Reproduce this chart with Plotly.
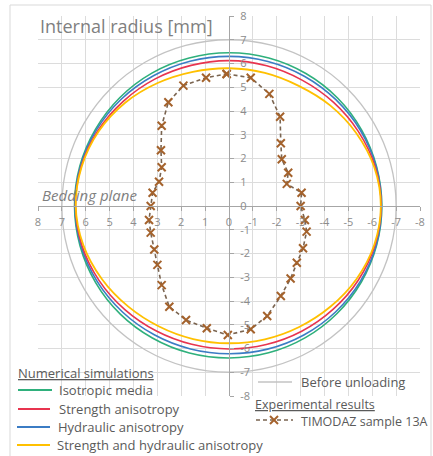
import numpy as np
import plotly.graph_objects as go

# ---------------- data ----------------
ANGLES_DEG = [0, 15, 30, 45, 60, 75, 90, 105, 120, 135, 150, 165, 180,
              195, 210, 225, 240, 255, 270, 285, 300, 315, 330, 345, 360]

BEFORE_UNLOADING_R = [7.0, 7.0, 7.0, 7.0, 7.0, 7.0, 7.0, 7.0, 7.0, 7.0, 7.0, 7.0, 7.0,
                      7.0, 7.0, 7.0, 7.0, 7.0, 7.0, 7.0, 7.0, 7.0, 7.0, 7.0, 7.0]
ISOTROPIC_R = [6.47, 6.47, 6.46, 6.46, 6.46, 6.45, 6.45, 6.45, 6.44, 6.43, 6.41, 6.40, 6.40,
               6.40, 6.40, 6.40, 6.40, 6.40, 6.40, 6.41, 6.42, 6.44, 6.45, 6.46, 6.47]
HYDRAULIC_R = [6.45, 6.44, 6.41, 6.37, 6.33, 6.31, 6.30, 6.30, 6.31, 6.33, 6.36, 6.38, 6.39,
               6.38, 6.35, 6.31, 6.27, 6.24, 6.22, 6.23, 6.26, 6.31, 6.37, 6.42, 6.45]
STRENGTH_R = [6.43, 6.41, 6.34, 6.25, 6.18, 6.13, 6.12, 6.11, 6.12, 6.18, 6.26, 6.34, 6.37,
              6.33, 6.25, 6.16, 6.09, 6.04, 6.02, 6.03, 6.08, 6.17, 6.28, 6.38, 6.43]
STRENGTH_HYDRAULIC_R = [6.42, 6.39, 6.30, 6.15, 5.98, 5.85, 5.80, 5.80, 5.84, 5.99, 6.15, 6.30, 6.36,
                        6.30, 6.16, 6.00, 5.88, 5.81, 5.78, 5.80, 5.86, 5.98, 6.15, 6.32, 6.42]

EXP_X = [0.10, -0.91, -1.69, -2.14, -2.17, -2.21, -2.48, -2.42, -3.04, -3.00, -3.18, -3.25,
         -3.10, -2.84, -2.58, -2.17, -1.60, -0.91, 0.05, 0.93, 1.80, 2.50, 2.82, 3.00,
         3.13, 3.28, 3.35, 3.28, 3.20, 2.93, 2.82, 2.85, 2.82, 2.54, 1.91, 0.96, 0.10]
EXP_Y = [5.56, 5.40, 4.72, 3.76, 2.64, 1.97, 1.40, 0.93, 0.56, 0.00, -0.59, -1.08,
         -1.78, -2.39, -3.05, -3.79, -4.63, -5.19, -5.43, -5.15, -4.80, -4.24, -3.33, -2.48,
         -1.83, -1.12, -0.59, 0.00, 0.56, 1.02, 1.63, 2.35, 3.38, 4.37, 5.07, 5.40, 5.56]

TICK_VALS = [8, 7, 6, 5, 4, 3, 2, 1, 0, -1, -2, -3, -4, -5, -6, -7, -8]
TICK_TEXT = ["8", "7", "6", "5", "4", "3", "2", "1", "0",
             "-1", "-2", "-3", "-4", "-5", "-6", "-7", "-8"]

# ---------------- layout helpers ----------------
W, H = 433, 456
ML, MR, MT, MB = 38, 13, 16, 60
FONT = "Open Sans"


def px(xp):
    return (xp - ML) / (W - ML - MR)


def py(yp):
    return (H - MB - yp) / (H - MT - MB)


def polar_xy(radii):
    th = np.radians(ANGLES_DEG)
    r = np.asarray(radii, dtype=float)
    return r * np.cos(th), r * np.sin(th)


GRAY = "#c3c3c3"
GREEN = "#2fb07c"
BLUE = "#3b7cc4"
RED = "#e8344f"
YELLOW = "#ffc000"
BROWN = "#a4622c"
DASHC = "#7a6450"
TXT = "#5a5a5a"

fig = go.Figure()

for radii, color, width in [
    (BEFORE_UNLOADING_R, GRAY, 1.3),
    (ISOTROPIC_R, GREEN, 1.6),
    (HYDRAULIC_R, BLUE, 1.6),
    (STRENGTH_R, RED, 1.6),
    (STRENGTH_HYDRAULIC_R, YELLOW, 1.8),
]:
    x, y = polar_xy(radii)
    fig.add_trace(go.Scatter(x=x, y=y, mode="lines",
                             line=dict(color=color, width=width, shape="spline", smoothing=1.0),
                             showlegend=False, hoverinfo="skip"))

fig.add_trace(go.Scatter(x=EXP_X, y=EXP_Y, mode="lines+markers",
                         line=dict(color=DASHC, width=1.6, dash="4px,3px"),
                         marker=dict(symbol="x-thin", size=8,
                                     line=dict(width=2, color=BROWN)),
                         showlegend=False, hoverinfo="skip"))

axis_common = dict(
    tickmode="array", tickvals=TICK_VALS, ticktext=TICK_TEXT,
    showgrid=True, gridcolor="#dcdcdc", gridwidth=1,
    zeroline=False, showline=True, linecolor="#a6a6a6", linewidth=1,
    ticks="outside", ticklen=4, tickcolor="#a6a6a6",
    tickfont=dict(family=FONT, size=11, color="#8c8c8c"),
    anchor="free", position=0.5, automargin=False, fixedrange=True,
)
fig.update_layout(
    width=W, height=H,
    margin=dict(l=ML, r=MR, t=MT, b=MB, pad=0),
    paper_bgcolor="white", plot_bgcolor="white",
    showlegend=False,
    xaxis=dict(range=[8, -8], side="bottom", ticklabelstandoff=2, **axis_common),
    yaxis=dict(range=[-8, 8], side="right", ticklabelstandoff=4, **axis_common),
)

shapes = []
# outer chart frame
shapes.append(dict(type="rect", xref="paper", yref="paper",
                   x0=px(10), x1=px(431), y0=py(5), y1=py(470),
                   line=dict(color="#d9d9d9", width=1), fillcolor="rgba(0,0,0,0)", layer="below"))
# white legend panels that hide the grid
shapes.append(dict(type="rect", xref="paper", yref="paper",
                   x0=px(11), x1=px(226), y0=py(362), y1=py(455),
                   line=dict(width=0), fillcolor="white", layer="between"))
shapes.append(dict(type="rect", xref="paper", yref="paper",
                   x0=px(232), x1=px(430), y0=py(374), y1=py(455),
                   line=dict(width=0), fillcolor="white", layer="between"))

annotations = []


def add_text(text, x, y, size=13, color=TXT, italic=False):
    annotations.append(dict(text=text, xref="paper", yref="paper", x=px(x), y=py(y),
                            xanchor="left", yanchor="middle", showarrow=False,
                            font=dict(family=FONT, size=size, color=color,
                                      style="italic" if italic else "normal")))


def add_sample(x0, x1, y, color, width=2, dash="solid"):
    shapes.append(dict(type="line", xref="paper", yref="paper",
                       x0=px(x0), x1=px(x1), y0=py(y), y1=py(y),
                       line=dict(color=color, width=width, dash=dash)))


add_text("Internal radius [mm]", 38, 26, size=18, color="#7f7f7f")
add_text("Bedding plane", 40, 195, size=15, color="#7f7f7f", italic=True)

add_text("<u>Numerical simulations</u>", 16, 373)
add_sample(18, 52, 390, GREEN)
add_text("Isotropic media", 57, 390)
add_sample(18, 50, 409, RED)
add_text("Strength anisotropy", 57, 409)
add_sample(17, 50, 427, BLUE)
add_text("Hydraulic anisotropy", 56, 427)
add_sample(17, 50, 445, YELLOW)
add_text("Strength and hydraulic anisotropy", 55, 445)

add_sample(258, 292, 382, GRAY, width=1.5)
add_text("Before unloading", 299, 382)
add_text("<u>Experimental results</u>", 253, 404, size=12.5)
add_sample(256, 293, 420, DASHC, width=1.5, dash="4px,3px")
for (a0, b0, a1, b1) in [(270, 416, 278, 424), (270, 424, 278, 416)]:
    shapes.append(dict(type="line", xref="paper", yref="paper",
                       x0=px(a0), x1=px(a1), y0=py(b0), y1=py(b1),
                       line=dict(color=BROWN, width=2)))
add_text("TIMODAZ sample 13A", 299, 421, size=12.5)

fig.update_layout(shapes=shapes, annotations=annotations)
fig.write_html("out.html", config={"displayModeBar": False},
               post_script="document.body.style.margin='0';document.body.style.overflow='hidden';")
